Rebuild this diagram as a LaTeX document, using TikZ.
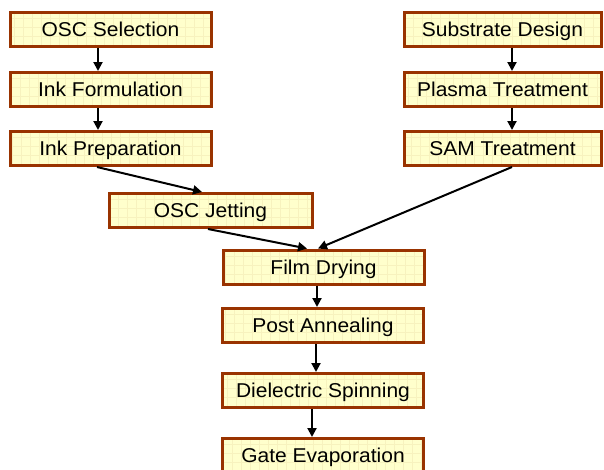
\documentclass[tikz,border=0pt]{standalone}
\usepackage{fontspec}
\setmainfont{Liberation Sans}[FakeStretch=1.05]
\usetikzlibrary{arrows.meta}
\definecolor{boxfill}{HTML}{FFFFCC}
\definecolor{boxline}{HTML}{993300}
\definecolor{boxgrid}{HTML}{F7F2BE}
\tikzset{%
  stepnode/.style = {shape=rectangle, draw=boxline, line width=3pt,%
                     fill=boxfill, inner sep=0pt,%
                     minimum width=201pt, minimum height=34pt,%
                     text height=14.3pt, text depth=0pt,%
                     font=\fontsize{20}{24}\selectfont,%
                     path picture={\draw[boxgrid, line width=0.5pt]
                       (path picture bounding box.south west) grid[step=9pt]
                       (path picture bounding box.north east);}},%
  flow/.style     = {line width=2pt, -{Triangle[length=9pt, width=9pt]}}%
}
\begin{document}
\begin{tikzpicture}[x=1pt,y=-1pt]
  \useasboundingbox (0,0) rectangle (604,469);
  \node[stepnode] (sel)    at (110.5,29)   {OSC Selection};
  \node[stepnode] (form)   at (110.5,89.5) {Ink Formulation};
  \node[stepnode] (prep)   at (110.5,148.5) {Ink Preparation};
  \node[stepnode, minimum width=197pt] (subs)   at (502.5,29)   {Substrate Design};
  \node[stepnode, minimum width=197pt] (plasma) at (502.5,89.5) {Plasma Treatment};
  \node[stepnode, minimum width=197pt] (sam)    at (502.5,148.5) {SAM Treatment};
  \node[stepnode, minimum width=203pt] (jet)    at (210.5,210.5) {OSC Jetting};
  \node[stepnode] (dry)    at (323.5,267)  {Film Drying};
  \node[stepnode] (anneal) at (323,325.5)  {Post Annealing};
  \node[stepnode] (diel)   at (323,390.5)  {Dielectric Spinning};
  \node[stepnode] (gate)   at (323,455.5)  {Gate Evaporation};
  \draw[flow] ([xshift=-12.5pt]sel.south)  -- ([xshift=-12.5pt]form.north);
  \draw[flow] ([xshift=-12.5pt]form.south) -- ([xshift=-12.5pt]prep.north);
  \draw[flow] ([xshift=9.5pt]subs.south)   -- ([xshift=9.5pt]plasma.north);
  \draw[flow] ([xshift=9.5pt]plasma.south) -- ([xshift=9.5pt]sam.north);
  \draw[flow] ([xshift=-13.5pt]prep.south) -- ([xshift=-8.5pt]jet.north);
  \draw[flow] ([xshift=-2.5pt]jet.south)   -- ([xshift=-16.5pt]dry.north);
  \draw[flow] ([xshift=9.5pt]sam.south)    -- ([xshift=-5.5pt]dry.north);
  \draw[flow] ([xshift=-6.5pt]dry.south)   -- ([xshift=-6pt]anneal.north);
  \draw[flow] ([xshift=-7pt]anneal.south)  -- ([xshift=-7pt]diel.north);
  \draw[flow] ([xshift=-11pt]diel.south)   -- ([xshift=-11pt]gate.north);
\end{tikzpicture}
\end{document}
